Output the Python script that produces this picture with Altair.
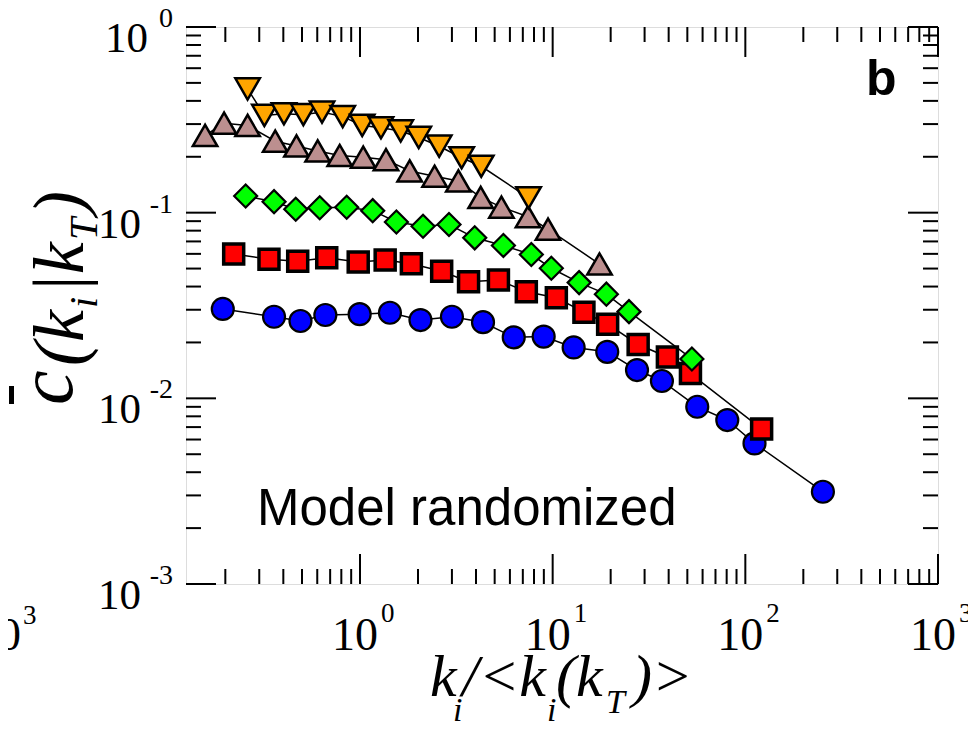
import altair as alt
import pandas as pd

# ---- data ----
blue_x = [0.194, 0.358, 0.491, 0.661, 0.996, 1.43, 2.06, 3.0, 4.35, 6.28, 8.98, 12.85, 19.2, 27.4, 36.9, 56.3, 80.6, 111.6, 252.7]
blue_y = [0.0303, 0.0275, 0.0261, 0.0281, 0.0284, 0.0289, 0.0264, 0.0275, 0.0257, 0.0213, 0.0215, 0.0188, 0.0178, 0.0142, 0.0124, 0.00901, 0.00764, 0.00572, 0.00314]

red_x = [0.221, 0.337, 0.475, 0.672, 0.979, 1.351, 1.848, 2.654, 3.66, 5.23, 7.30, 10.45, 14.53, 19.29, 27.78, 39.4, 51.9, 121.5]
red_y = [0.0599, 0.0561, 0.0548, 0.0571, 0.0542, 0.0556, 0.0531, 0.0484, 0.0425, 0.0434, 0.0375, 0.0348, 0.0291, 0.0251, 0.0195, 0.0167, 0.0136, 0.00684]

green_x = [0.255, 0.358, 0.464, 0.618, 0.853, 1.164, 1.545, 2.124, 2.897, 3.94, 5.55, 7.75, 9.84, 13.72, 19.0, 24.9, 52.8]
green_y = [0.1230, 0.1146, 0.1044, 0.1063, 0.1069, 0.1025, 0.0891, 0.0845, 0.0863, 0.0732, 0.0666, 0.0595, 0.0502, 0.0420, 0.0364, 0.0293, 0.0163]

brown_x = [0.157, 0.197, 0.261, 0.363, 0.468, 0.603, 0.785, 1.039, 1.364, 1.811, 2.44, 3.24, 4.23, 5.42, 7.45, 9.46, 17.5]
brown_y = [0.2606, 0.3032, 0.2951, 0.2427, 0.2288, 0.2149, 0.2032, 0.1990, 0.1930, 0.1678, 0.1571, 0.1482, 0.1208, 0.1071, 0.0951, 0.0815, 0.0529]

orange_x = [0.261, 0.319, 0.403, 0.508, 0.635, 0.813, 1.027, 1.285, 1.627, 2.018, 2.577, 3.37, 4.26, 7.50]
orange_y = [0.464, 0.334, 0.341, 0.3373, 0.348, 0.329, 0.295, 0.2867, 0.2755, 0.2542, 0.2280, 0.1976, 0.1778, 0.1203]

x_major = [1, 10, 100, 1000]
x_exp = ["0", "1", "2", "3"]
y_major = [1, 0.1, 0.01, 0.001]
y_exp = ["0", "-1", "-2", "-3"]
x_minor = [m * 10.0 ** e for e in (-1, 0, 1, 2) for m in range(2, 10)]
y_minor = [m * 10.0 ** e for e in (-3, -2, -1) for m in range(2, 10)]

annotation = "Model randomized"
panel_letter = "b"

# ---- layout ----
W, H = 752, 557
OX, OY = 186, 27  # page position of the plot origin

xscale = alt.Scale(type="log", domain=[0.125, 1000], nice=False)
yscale = alt.Scale(type="log", domain=[0.001, 1], nice=False)


def X(f="x"):
    return alt.X(f"{f}:Q", scale=xscale, axis=None)


def Y(f="y"):
    return alt.Y(f"{f}:Q", scale=yscale, axis=None)


def txt(s, x, y, size, angle=0, style="italic", font="Liberation Serif",
        weight="normal", align="left"):
    return alt.Chart(pd.DataFrame({"t": [s]})).mark_text(
        font=font, fontSize=size, fontStyle=style, fontWeight=weight,
        align=align, baseline="alphabetic", angle=angle, color="black"
    ).encode(x=alt.value(x - OX), y=alt.value(y - OY), text="t:N")


series = [
    (blue_x, blue_y, "circle", "#0000ff", 484, 2.2),
    (red_x, red_y, "square", "#ff0000", 400, 3.5),
    (green_x, green_y, "diamond", "#00ff00", 529, 2.2),
    (brown_x, brown_y, "triangle-up", "#bc8f8f", 600, 2.5),
    (orange_x, orange_y, "triangle-down", "#ffa500", 600, 2.5),
]

layers = []
for xs, ys, shape, color, size, sw in series:
    df = pd.DataFrame({"x": xs, "y": ys, "i": list(range(len(xs)))})
    layers.append(alt.Chart(df).mark_line(color="black", strokeWidth=1.5).encode(
        x=X(), y=Y(), order="i:Q"))
for xs, ys, shape, color, size, sw in series:
    df = pd.DataFrame({"x": xs, "y": ys})
    layers.append(alt.Chart(df).mark_point(
        shape=shape, filled=True, fill=color, stroke="black", strokeWidth=sw,
        size=size, opacity=1, fillOpacity=1, strokeOpacity=1
    ).encode(x=X(), y=Y()))

# inward ticks on all four sides
TW = 2
for vals, L in ((x_major, 30), (x_minor, 15)):
    d = pd.DataFrame({"v": vals})
    layers.append(alt.Chart(d).mark_rule(color="black", strokeWidth=TW).encode(
        x=X("v"), y=alt.value(H), y2=alt.value(H - L)))
    layers.append(alt.Chart(d).mark_rule(color="black", strokeWidth=TW).encode(
        x=X("v"), y=alt.value(0), y2=alt.value(L)))
for vals, L in ((y_major, 30), (y_minor, 15)):
    d = pd.DataFrame({"v": vals})
    layers.append(alt.Chart(d).mark_rule(color="black", strokeWidth=TW).encode(
        y=Y("v"), x=alt.value(0), x2=alt.value(L)))
    layers.append(alt.Chart(d).mark_rule(color="black", strokeWidth=TW).encode(
        y=Y("v"), x=alt.value(W), x2=alt.value(W - L)))

# x tick labels 10^n
xl = pd.DataFrame({"v": x_major, "b": ["10"] * 4, "e": x_exp})
layers.append(alt.Chart(xl).mark_text(
    font="Liberation Serif", fontSize=46, align="right", baseline="alphabetic",
    dx=18, color="black").encode(x=X("v"), y=alt.value(650 - OY), text="b:N"))
layers.append(alt.Chart(xl).mark_text(
    font="Liberation Serif", fontSize=27, align="left", baseline="alphabetic",
    dx=21, color="black").encode(x=X("v"), y=alt.value(622 - OY), text="e:N"))

# y tick labels 10^n
yl = pd.DataFrame({"v": y_major, "b": ["10"] * 4, "e": y_exp})
layers.append(alt.Chart(yl[yl.v == 1]).mark_text(
    font="Liberation Serif", fontSize=43, align="right", baseline="alphabetic",
    dy=25, color="black").encode(y=Y("v"), x=alt.value(148 - OX), text="b:N"))
layers.append(alt.Chart(yl[yl.v < 1]).mark_text(
    font="Liberation Serif", fontSize=43, align="right", baseline="alphabetic",
    dy=25, color="black").encode(y=Y("v"), x=alt.value(141 - OX), text="b:N"))
layers.append(alt.Chart(yl).mark_text(
    font="Liberation Serif", fontSize=28, align="right", baseline="alphabetic",
    dy=0, color="black").encode(y=Y("v"), x=alt.value(173 - OX), text="e:N"))

# axis titles (built from pieces to get sub-scripts)
layers += [
    txt("k", 430, 696, 60),
    txt("i", 453, 721, 34),
    txt("/<k", 462, 696, 60),
    txt("i", 547, 721, 34),
    txt("(k", 556, 696, 60),
    txt("T", 606, 713, 34),
    txt(")>", 632, 696, 60),
]
layers += [
    txt("c", 72, 405, 78, angle=270),
    txt("(k", 83, 366, 72, angle=270),
    txt("i", 97, 308, 40, angle=270),
    txt("|k", 83, 294, 72, angle=270),
    txt("T", 97, 240, 40, angle=270),
    txt(")", 83, 215, 72, angle=270),
]
# over-bar of c
bar = pd.DataFrame({"k": [0]})
layers.append(alt.Chart(bar).mark_rect(color="black").encode(
    x=alt.value(9 - OX), x2=alt.value(14 - OX), y=alt.value(386 - OY), y2=alt.value(404 - OY)))

# annotation text and panel letter
layers.append(txt(annotation, 257, 525, 51, style="normal", font="Liberation Sans"))
layers.append(txt(panel_letter, 866, 95, 50, style="normal", font="Liberation Sans", weight="bold"))

# cropped neighbour-panel label at the far left
layers.append(txt("10", 21, 650, 46, style="normal", align="right"))
layers.append(txt("3", 23, 624, 27, style="normal"))

chart = alt.layer(*layers).properties(
    width=W, height=H,
    autosize=alt.AutoSizeParams(type="none"),
    padding={"left": OX - 8, "top": OY - 8, "right": 30, "bottom": 141},
).configure_view(stroke="black", strokeWidth=2.5).configure(background="white")

chart.save("out.html", embed_options={"renderer": "svg", "actions": False})
